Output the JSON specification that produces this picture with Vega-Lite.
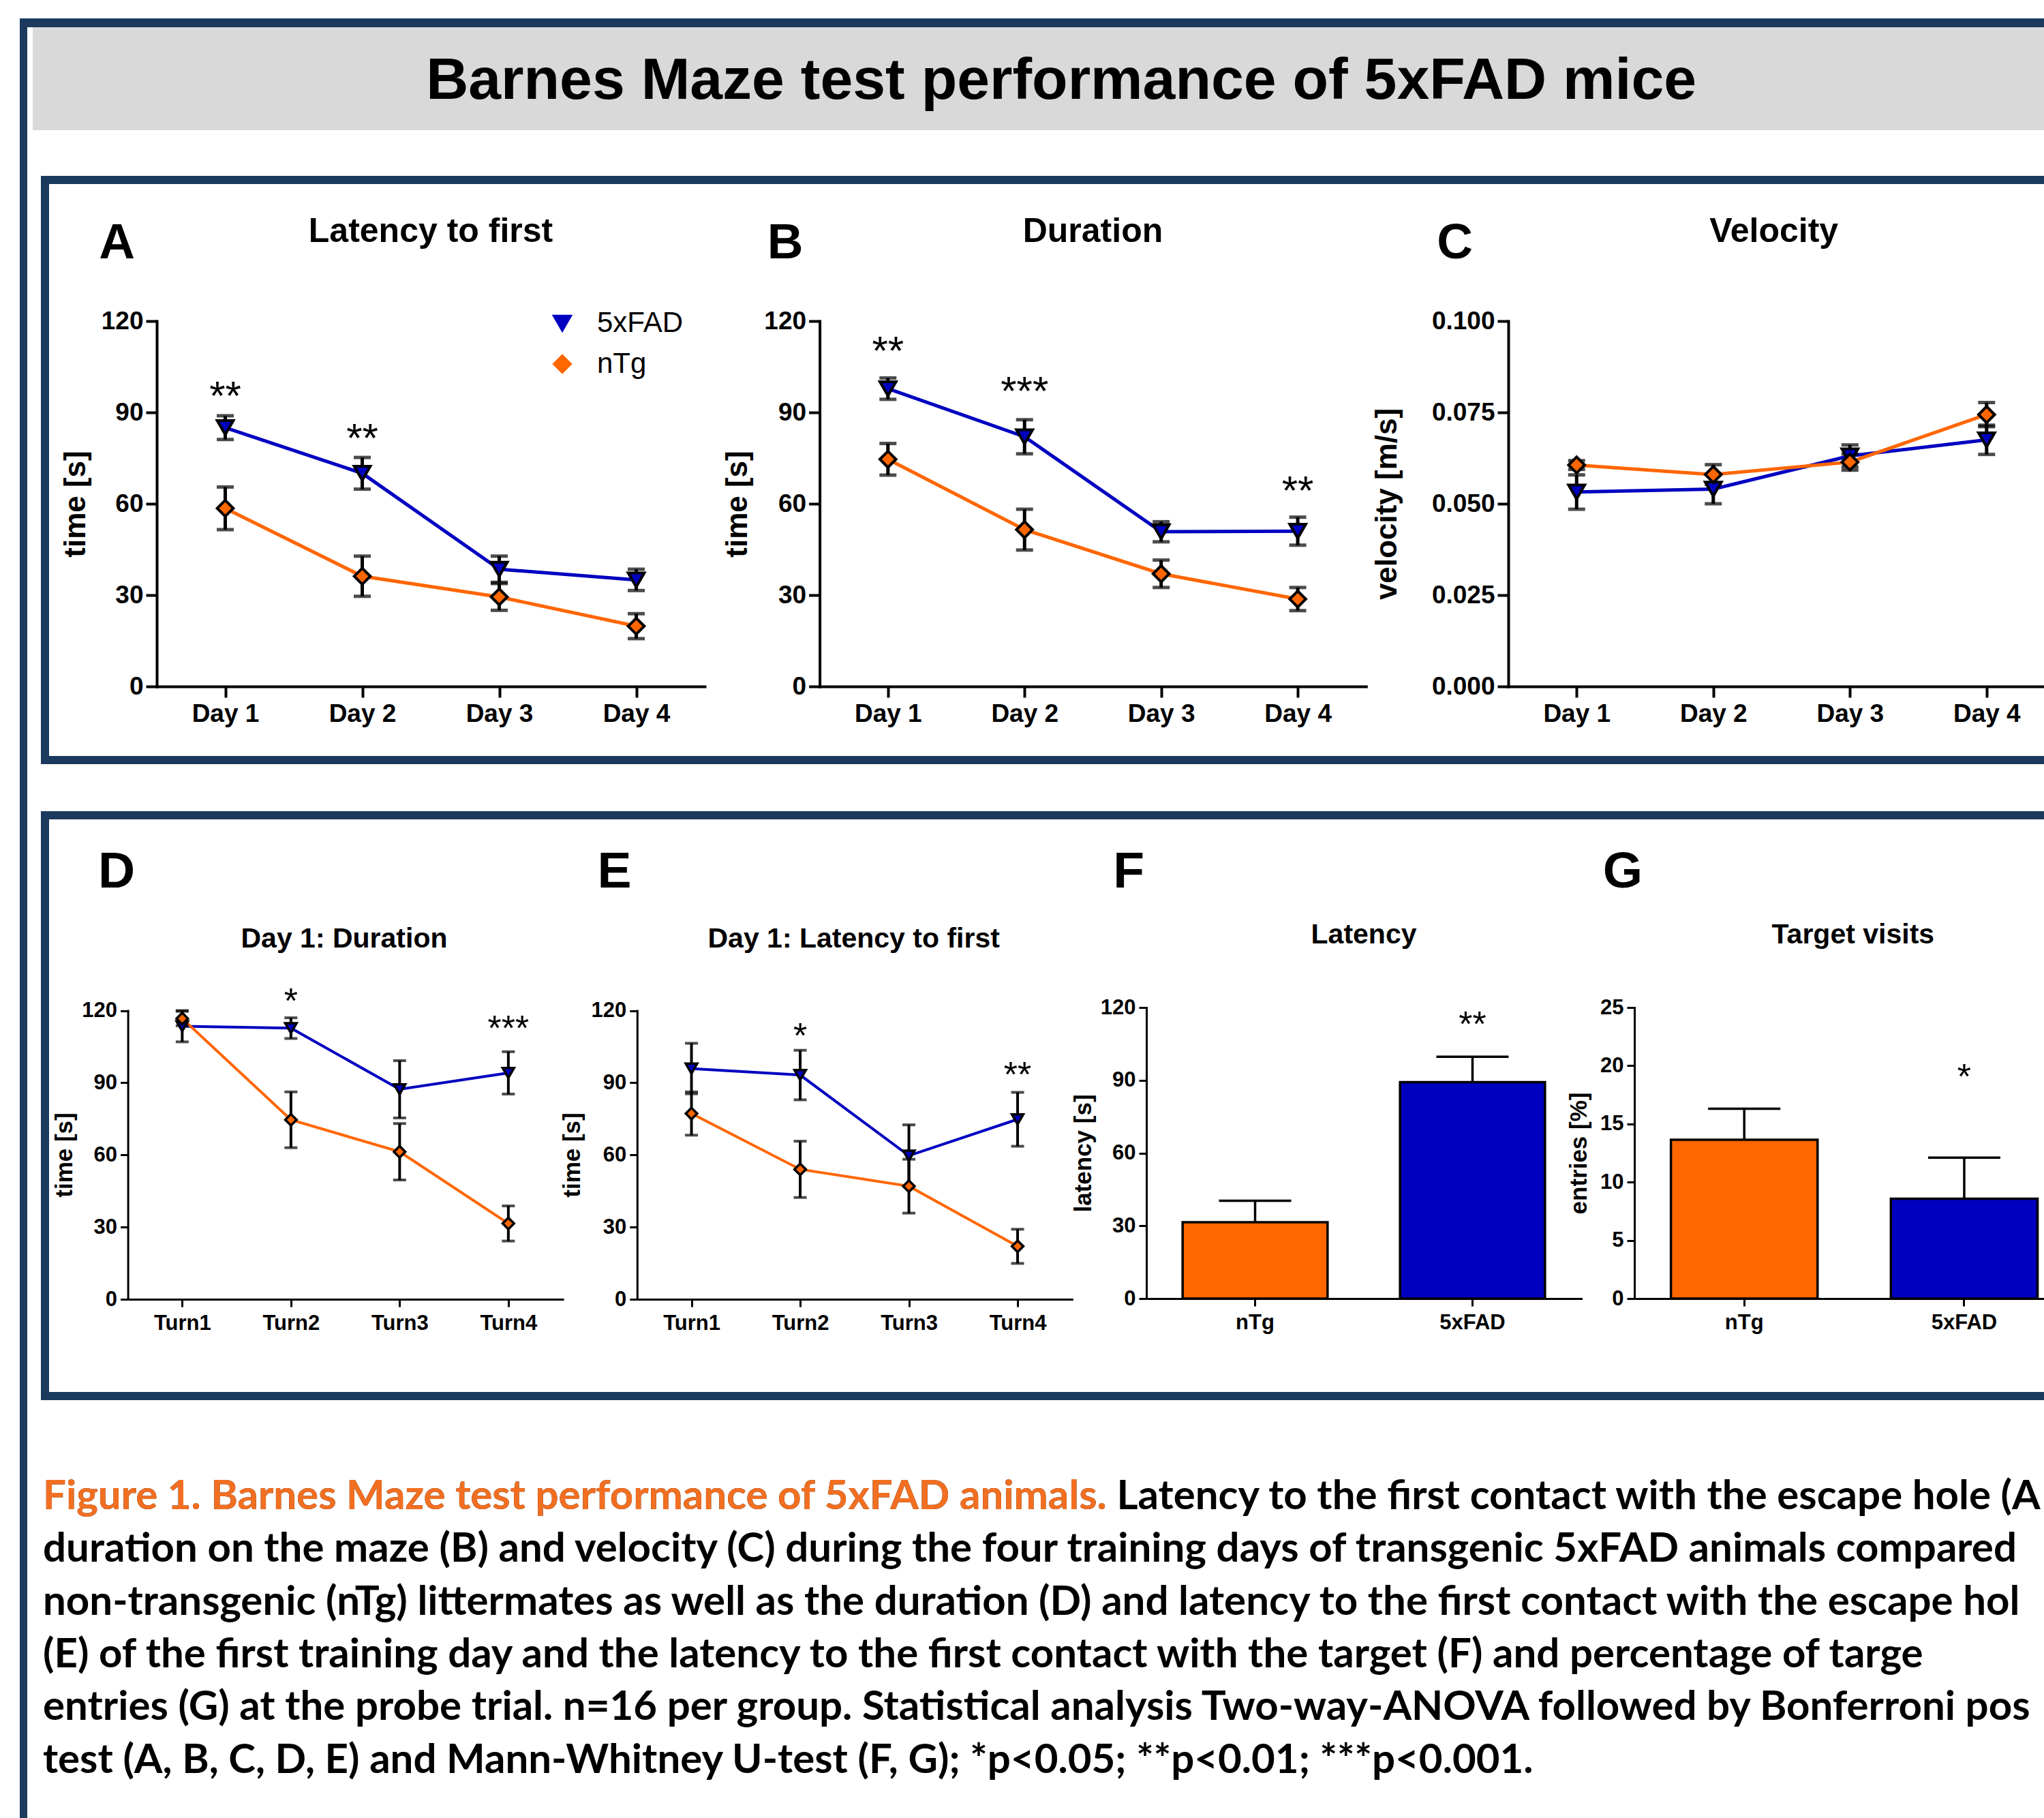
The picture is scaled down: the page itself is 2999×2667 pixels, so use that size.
{
"$schema":"https://vega.github.io/schema/vega-lite/v6.json",
"padding":{"left":29,"top":27,"right":0,"bottom":0},
"background":"white",
"datasets":{
"A":[{"day":1,"group":"5xFAD","mean":85,"sem":3.9},{"day":2,"group":"5xFAD","mean":70,"sem":5.2},{"day":3,"group":"5xFAD","mean":38.5,"sem":4.3},{"day":4,"group":"5xFAD","mean":35,"sem":3.5},{"day":1,"group":"nTg","mean":58.5,"sem":7},{"day":2,"group":"nTg","mean":36.2,"sem":6.6},{"day":3,"group":"nTg","mean":29.4,"sem":4.4},{"day":4,"group":"nTg","mean":19.8,"sem":4.1}],
"Astars":[{"day":1,"y":98.5,"label":"**"},{"day":2,"y":84.7,"label":"**"}],
"B":[{"day":1,"group":"5xFAD","mean":97.8,"sem":3.5},{"day":2,"group":"5xFAD","mean":82,"sem":5.6},{"day":3,"group":"5xFAD","mean":50.8,"sem":3.3},{"day":4,"group":"5xFAD","mean":51,"sem":4.6},{"day":1,"group":"nTg","mean":74.6,"sem":5.2},{"day":2,"group":"nTg","mean":51.5,"sem":6.7},{"day":3,"group":"nTg","mean":37,"sem":4.5},{"day":4,"group":"nTg","mean":28.7,"sem":3.8}],
"Bstars":[{"day":1,"y":113.2,"label":"**"},{"day":2,"y":100,"label":"***"},{"day":4,"y":67.5,"label":"**"}],
"C":[{"day":1,"group":"5xFAD","mean":0.0532,"sem":0.0047},{"day":2,"group":"5xFAD","mean":0.054,"sem":0.004},{"day":3,"group":"5xFAD","mean":0.0631,"sem":0.003},{"day":4,"group":"5xFAD","mean":0.0675,"sem":0.004},{"day":1,"group":"nTg","mean":0.0606,"sem":0.0012},{"day":2,"group":"nTg","mean":0.058,"sem":0.0027},{"day":3,"group":"nTg","mean":0.0614,"sem":0.0022},{"day":4,"group":"nTg","mean":0.0744,"sem":0.0033}],
"D":[{"turn":1,"group":"5xFAD","mean":113.5,"sem":6.5},{"turn":2,"group":"5xFAD","mean":112.7,"sem":4.3},{"turn":3,"group":"5xFAD","mean":87.3,"sem":11.9},{"turn":4,"group":"5xFAD","mean":94.1,"sem":8.8},{"turn":1,"group":"nTg","mean":116.7,"sem":3},{"turn":2,"group":"nTg","mean":74.6,"sem":11.6},{"turn":3,"group":"nTg","mean":61.3,"sem":11.7},{"turn":4,"group":"nTg","mean":31.5,"sem":7.3}],
"Dstars":[{"turn":2,"y":127.6,"label":"*"},{"turn":4,"y":116.3,"label":"***"}],
"E":[{"turn":1,"group":"5xFAD","mean":95.9,"sem":10.5},{"turn":2,"group":"5xFAD","mean":93.2,"sem":10.3},{"turn":3,"group":"5xFAD","mean":59.7,"sem":12.8},{"turn":4,"group":"5xFAD","mean":74.8,"sem":11.2},{"turn":1,"group":"nTg","mean":77.2,"sem":9},{"turn":2,"group":"nTg","mean":54,"sem":11.7},{"turn":3,"group":"nTg","mean":47,"sem":11.2},{"turn":4,"group":"nTg","mean":22,"sem":7.1}],
"Estars":[{"turn":2,"y":113,"label":"*"},{"turn":4,"y":97,"label":"**"}],
"F":[{"group":"nTg","mean":31.5,"hi":40.3},{"group":"5xFAD","mean":89.2,"hi":99.7}],
"Fstars":[{"group":"5xFAD","y":116.6,"label":"**"}],
"G":[{"group":"nTg","mean":13.64,"hi":16.3},{"group":"5xFAD","mean":8.57,"hi":12.1}],
"Gstars":[{"group":"5xFAD","y":19.76,"label":"*"}],
"caption":[
{"line":1,"text":"Figure 1. Barnes Maze test performance of 5xFAD animals. Latency to the first contact with the escape hole (A"},
{"line":2,"text":"duration on the maze (B) and velocity (C) during the four training days of transgenic 5xFAD animals compared t"},
{"line":3,"text":"non-transgenic (nTg) littermates as well as the duration (D) and latency to the first contact with the escape hol"},
{"line":4,"text":"(E) of the first training day and the latency to the first contact with the target (F) and  percentage of targe"},
{"line":5,"text":"entries (G) at the probe trial. n=16 per group. Statistical analysis Two-way-ANOVA followed by Bonferroni pos"},
{"line":6,"text":"test (A, B, C, D, E) and Mann-Whitney  U-test (F, G); *p<0.05; **p<0.01; ***p<0.001."}],
"captionHead":[{"line":1,"text":"Figure 1. Barnes Maze test performance of 5xFAD animals."}]
},
"spacing":0,
"vconcat":[
{"width":2970,"height":13,"view":{"fill":"#1b3a5e"},"data":{"values":[]},"mark":"point","encoding":{}},
{"hconcat":[
{"width":11,"height":2627,"view":{"fill":"#1b3a5e"},"data":{"values":[]},"mark":"point","encoding":{}},
{"vconcat":[
{"width":2951,"height":151,"view":{"fill":"#d9d9d9"},"data":{"values":[{}]},
 "mark":{"type":"text","text":"Barnes Maze test performance of  5xFAD mice","fontSize":86,"fontWeight":"bold","baseline":"middle","align":"center"},
 "encoding":{"x":{"datum":0.5114,"type":"quantitative","scale":{"domain":[0,1]},"axis":null},"y":{"datum":0.48,"type":"quantitative","scale":{"domain":[0,1]},"axis":null}}},
{"width":2951,"height":67,"data":{"values":[]},"mark":"point","encoding":{}},
{"hconcat":[
{"width":18,"height":851,"data":{"values":[]},"mark":"point","encoding":{}},
{"width":2939,"height":851,"view":{"stroke":"#1b3a5e","strokeWidth":12},
 "resolve":{"scale":{"x":"independent","y":"independent"},"axis":{"x":"independent","y":"independent"}},
 "layer":[
 {"layer":[
  {"data":{"name":"A"},"mark":{"type":"line","strokeWidth":5},
   "encoding":{
    "x":{"field":"day","type":"quantitative","title":null,"scale":{"domain":[0.5,4.5],"range":[164,968],"nice":false,"zero":false},"axis":{"orient":"bottom","offset":-108,"values":[1,2,3,4],"labelExpr":"'Day ' + datum.value","title":null,"labelFontSize":37,"labelPadding":6,"tickSize":16,"tickWidth":4,"domainWidth":4}},
    "y":{"field":"mean","type":"quantitative","title":"time [s]","scale":{"domain":[0,120],"range":[743,207],"nice":false,"zero":false},"axis":{"orient":"left","offset":-164,"values":[0,30,60,90,120],"title":"time [s]","titleFontSize":44,"titleX":-106,"titleY":475,"titleBaseline":"alphabetic","labelFontSize":37,"labelPadding":4,"tickSize":16,"tickWidth":4,"domainWidth":4}},
    "color":{"field":"group","type":"nominal","scale":{"domain":["5xFAD","nTg"],"range":["#0000c0","#ff6600"]},"legend":{"title":null,"orient":"none","legendX":738,"legendY":189,"labelFontSize":42,"labelFontWeight":"normal","symbolSize":560,"symbolStrokeColor":"black","symbolStrokeWidth":4,"rowPadding":18,"labelOffset":30,"padding":0}}}},
  {"data":{"name":"A"},"mark":{"type":"errorbar","color":"black","thickness":5,"size":25,"ticks":true},
   "encoding":{"x":{"field":"day","type":"quantitative","title":null},"y":{"field":"mean","type":"quantitative","title":"time [s]"},"yError":{"field":"sem"}}},
  {"data":{"name":"A"},"mark":{"type":"point","filled":true,"stroke":"black","strokeWidth":4,"size":560,"opacity":1},
   "encoding":{"x":{"field":"day","type":"quantitative","title":null},"y":{"field":"mean","type":"quantitative","title":"time [s]"},"stroke":{"value":"black"},
    "color":{"field":"group","type":"nominal","legend":{"title":null,"orient":"none","legendX":738,"legendY":189,"labelFontSize":42,"labelFontWeight":"normal","symbolSize":560,"symbolStrokeColor":"black","symbolStrokeWidth":4,"rowPadding":18,"labelOffset":30,"padding":0}},
    "shape":{"field":"group","type":"nominal","scale":{"domain":["5xFAD","nTg"],"range":["triangle-down","diamond"]},"legend":{"title":null,"orient":"none","legendX":738,"legendY":189,"labelFontSize":42,"labelFontWeight":"normal","symbolSize":560,"symbolStrokeColor":"black","symbolStrokeWidth":4,"rowPadding":18,"labelOffset":30,"padding":0}}}},
  {"data":{"name":"Astars"},"mark":{"type":"text","fontSize":60,"baseline":"alphabetic","dy":34},
   "encoding":{"x":{"field":"day","type":"quantitative","title":null},"y":{"field":"y","type":"quantitative","title":"time [s]"},"text":{"field":"label"}}},
  {"data":{"values":[{}]},"mark":{"type":"text","text":"Latency to first","fontSize":50,"fontWeight":"bold","baseline":"middle"},
   "encoding":{"x":{"datum":2.5},"y":{"datum":149.44}}},
  {"data":{"values":[{}]},"mark":{"type":"text","text":"A","fontSize":73,"fontWeight":"bold","baseline":"middle"},
   "encoding":{"x":{"datum":0.209},"y":{"datum":145.5}}}
 ]},
 {"layer":[
  {"data":{"name":"B"},"mark":{"type":"line","strokeWidth":5},
   "encoding":{
    "x":{"field":"day","type":"quantitative","title":null,"scale":{"domain":[0.5,4.5],"range":[1136.6,1938.3],"nice":false,"zero":false},"axis":{"orient":"bottom","offset":-108,"values":[1,2,3,4],"labelExpr":"'Day ' + datum.value","title":null,"labelFontSize":37,"labelPadding":6,"tickSize":16,"tickWidth":4,"domainWidth":4}},
    "y":{"field":"mean","type":"quantitative","title":"time [s]","scale":{"domain":[0,120],"range":[743,207],"nice":false,"zero":false},"axis":{"orient":"left","offset":-1136.6,"values":[0,30,60,90,120],"title":"time [s]","titleFontSize":44,"titleX":-107,"titleY":475,"titleBaseline":"alphabetic","labelFontSize":37,"labelPadding":4,"tickSize":16,"tickWidth":4,"domainWidth":4}},
    "color":{"field":"group","type":"nominal"}}},
  {"data":{"name":"B"},"mark":{"type":"errorbar","color":"black","thickness":5,"size":25,"ticks":true},
   "encoding":{"x":{"field":"day","type":"quantitative","title":null},"y":{"field":"mean","type":"quantitative","title":"time [s]"},"yError":{"field":"sem"}}},
  {"data":{"name":"B"},"mark":{"type":"point","filled":true,"stroke":"black","strokeWidth":4,"size":560,"opacity":1},
   "encoding":{"x":{"field":"day","type":"quantitative","title":null},"y":{"field":"mean","type":"quantitative","title":"time [s]"},"stroke":{"value":"black"},"color":{"field":"group","type":"nominal"},"shape":{"field":"group","type":"nominal"}}},
  {"data":{"name":"Bstars"},"mark":{"type":"text","fontSize":60,"baseline":"alphabetic","dy":34},
   "encoding":{"x":{"field":"day","type":"quantitative","title":null},"y":{"field":"y","type":"quantitative","title":"time [s]"},"text":{"field":"label"}}},
  {"data":{"values":[{}]},"mark":{"type":"text","text":"Duration","fontSize":50,"fontWeight":"bold","baseline":"middle"},
   "encoding":{"x":{"datum":2.5},"y":{"datum":149.44}}},
  {"data":{"values":[{}]},"mark":{"type":"text","text":"B","fontSize":73,"fontWeight":"bold","baseline":"middle"},
   "encoding":{"x":{"datum":0.2475},"y":{"datum":145.5}}}
 ]},
 {"layer":[
  {"data":{"name":"C"},"mark":{"type":"line","strokeWidth":5},
   "encoding":{
    "x":{"field":"day","type":"quantitative","title":null,"scale":{"domain":[0.5,4.42],"range":[2147,2933],"nice":false,"zero":false},"axis":{"orient":"bottom","offset":-108,"values":[1,2,3,4],"labelExpr":"'Day ' + datum.value","title":null,"labelFontSize":37,"labelPadding":6,"tickSize":16,"tickWidth":4,"domainWidth":4}},
    "y":{"field":"mean","type":"quantitative","title":"velocity [m/s]","scale":{"domain":[0,0.1],"range":[743,207],"nice":false,"zero":false},"axis":{"orient":"left","offset":-2147,"values":[0,0.025,0.05,0.075,0.1],"format":".3f","title":"velocity [m/s]","titleFontSize":44,"titleX":-165,"titleY":475,"titleBaseline":"alphabetic","labelFontSize":37,"labelPadding":4,"tickSize":16,"tickWidth":4,"domainWidth":4}},
    "color":{"field":"group","type":"nominal"}}},
  {"data":{"name":"C"},"mark":{"type":"errorbar","color":"black","thickness":5,"size":25,"ticks":true},
   "encoding":{"x":{"field":"day","type":"quantitative","title":null},"y":{"field":"mean","type":"quantitative","title":"velocity [m/s]"},"yError":{"field":"sem"}}},
  {"data":{"name":"C"},"mark":{"type":"point","filled":true,"stroke":"black","strokeWidth":4,"size":560,"opacity":1},
   "encoding":{"x":{"field":"day","type":"quantitative","title":null},"y":{"field":"mean","type":"quantitative","title":"velocity [m/s]"},"stroke":{"value":"black"},"color":{"field":"group","type":"nominal"},"shape":{"field":"group","type":"nominal"}}},
  {"data":{"values":[{}]},"mark":{"type":"text","text":"Velocity","fontSize":50,"fontWeight":"bold","baseline":"middle"},
   "encoding":{"x":{"datum":2.4435},"y":{"datum":0.12453}}},
  {"data":{"values":[{}]},"mark":{"type":"text","text":"C","fontSize":73,"fontWeight":"bold","baseline":"middle"},
   "encoding":{"x":{"datum":0.1085},"y":{"datum":0.12127}}}
 ]}
 ]}
],"spacing":0,"bounds":"flush",
 "resolve":{"scale":{"color":"independent","shape":"independent"},"legend":{"color":"independent","shape":"independent"}}},
{"width":2951,"height":69,"data":{"values":[]},"mark":"point","encoding":{}},
{"hconcat":[
{"width":18,"height":852,"data":{"values":[]},"mark":"point","encoding":{}},
{"width":2939,"height":852,"view":{"stroke":"#1b3a5e","strokeWidth":12},
 "resolve":{"scale":{"x":"independent","y":"independent"},"axis":{"x":"independent","y":"independent"}},
 "layer":[
 {"layer":[
  {"data":{"name":"D"},"mark":{"type":"line","strokeWidth":4},
   "encoding":{
    "x":{"field":"turn","type":"quantitative","title":null,"scale":{"domain":[0.5,4.5],"range":[121.6,759.6],"nice":false,"zero":false},"axis":{"orient":"bottom","offset":-142,"values":[1,2,3,4],"labelExpr":"'Turn' + datum.value","title":null,"labelFontSize":31,"labelPadding":9,"tickSize":11,"tickWidth":3,"domainWidth":3}},
    "y":{"field":"mean","type":"quantitative","title":"time [s]","scale":{"domain":[0,120],"range":[710,286.5],"nice":false,"zero":false},"axis":{"orient":"left","offset":-121.6,"values":[0,30,60,90,120],"title":"time [s]","titleFontSize":35,"titleX":-82,"titleY":498,"titleBaseline":"alphabetic","labelFontSize":31,"labelPadding":5,"tickSize":11,"tickWidth":3,"domainWidth":3}},
    "color":{"field":"group","type":"nominal","scale":{"domain":["5xFAD","nTg"],"range":["#0000c0","#ff6600"]},"legend":null}}},
  {"data":{"name":"D"},"mark":{"type":"errorbar","color":"black","thickness":4,"size":19,"ticks":true},
   "encoding":{"x":{"field":"turn","type":"quantitative","title":null},"y":{"field":"mean","type":"quantitative","title":"time [s]"},"yError":{"field":"sem"}}},
  {"data":{"name":"D"},"mark":{"type":"point","filled":true,"stroke":"black","strokeWidth":3.5,"size":280,"opacity":1},
   "encoding":{"x":{"field":"turn","type":"quantitative","title":null},"y":{"field":"mean","type":"quantitative","title":"time [s]"},"stroke":{"value":"black"},"color":{"field":"group","type":"nominal","legend":null},"shape":{"field":"group","type":"nominal","scale":{"domain":["5xFAD","nTg"],"range":["triangle-down","diamond"]},"legend":null}}},
  {"data":{"name":"Dstars"},"mark":{"type":"text","fontSize":52,"baseline":"alphabetic","dy":30},
   "encoding":{"x":{"field":"turn","type":"quantitative","title":null},"y":{"field":"y","type":"quantitative","title":"time [s]"},"text":{"field":"label"}}},
  {"data":{"values":[{}]},"mark":{"type":"text","text":"Day 1: Duration","fontSize":41,"fontWeight":"bold","baseline":"middle"},
   "encoding":{"x":{"datum":2.49},"y":{"datum":149.6}}},
  {"data":{"values":[{}]},"mark":{"type":"text","text":"D","fontSize":75,"fontWeight":"bold","baseline":"middle"},
   "encoding":{"x":{"datum":0.396},"y":{"datum":177.7}}}
 ]},
 {"layer":[
  {"data":{"name":"E"},"mark":{"type":"line","strokeWidth":4},
   "encoding":{
    "x":{"field":"turn","type":"quantitative","title":null,"scale":{"domain":[0.5,4.5],"range":[868.8,1506.8],"nice":false,"zero":false},"axis":{"orient":"bottom","offset":-142,"values":[1,2,3,4],"labelExpr":"'Turn' + datum.value","title":null,"labelFontSize":31,"labelPadding":9,"tickSize":11,"tickWidth":3,"domainWidth":3}},
    "y":{"field":"mean","type":"quantitative","title":"time [s]","scale":{"domain":[0,120],"range":[710,286.5],"nice":false,"zero":false},"axis":{"orient":"left","offset":-868.8,"values":[0,30,60,90,120],"title":"time [s]","titleFontSize":35,"titleX":-84,"titleY":498,"titleBaseline":"alphabetic","labelFontSize":31,"labelPadding":5,"tickSize":11,"tickWidth":3,"domainWidth":3}},
    "color":{"field":"group","type":"nominal","legend":null}}},
  {"data":{"name":"E"},"mark":{"type":"errorbar","color":"black","thickness":4,"size":19,"ticks":true},
   "encoding":{"x":{"field":"turn","type":"quantitative","title":null},"y":{"field":"mean","type":"quantitative","title":"time [s]"},"yError":{"field":"sem"}}},
  {"data":{"name":"E"},"mark":{"type":"point","filled":true,"stroke":"black","strokeWidth":3.5,"size":280,"opacity":1},
   "encoding":{"x":{"field":"turn","type":"quantitative","title":null},"y":{"field":"mean","type":"quantitative","title":"time [s]"},"stroke":{"value":"black"},"color":{"field":"group","type":"nominal","legend":null},"shape":{"field":"group","type":"nominal","legend":null}}},
  {"data":{"name":"Estars"},"mark":{"type":"text","fontSize":52,"baseline":"alphabetic","dy":30},
   "encoding":{"x":{"field":"turn","type":"quantitative","title":null},"y":{"field":"y","type":"quantitative","title":"time [s]"},"text":{"field":"label"}}},
  {"data":{"values":[{}]},"mark":{"type":"text","text":"Day 1: Latency to first","fontSize":41,"fontWeight":"bold","baseline":"middle"},
   "encoding":{"x":{"datum":2.493},"y":{"datum":149.6}}},
  {"data":{"values":[{}]},"mark":{"type":"text","text":"E","fontSize":75,"fontWeight":"bold","baseline":"middle"},
   "encoding":{"x":{"datum":0.291},"y":{"datum":177.7}}}
 ]},
 {"layer":[
  {"data":{"name":"F"},"mark":{"type":"bar","stroke":"black","strokeWidth":3.5},
   "encoding":{
    "x":{"field":"group","type":"nominal","title":null,"sort":["nTg","5xFAD"],"scale":{"domain":["nTg","5xFAD"],"range":[1616,2254],"paddingInner":0.3333,"paddingOuter":0.1667},"axis":{"orient":"bottom","offset":-143,"title":null,"labelAngle":0,"labelFontSize":31,"labelPadding":9,"tickSize":11,"tickWidth":3,"domainWidth":3}},
    "y":{"field":"mean","type":"quantitative","title":"latency [s]","scale":{"domain":[0,120],"range":[709,282],"nice":false,"zero":false},"axis":{"orient":"left","offset":-1616,"values":[0,30,60,90,120],"title":"latency [s]","titleFontSize":35,"titleX":-82,"titleY":495.5,"titleBaseline":"alphabetic","labelFontSize":31,"labelPadding":5,"tickSize":11,"tickWidth":3,"domainWidth":3}},
    "color":{"field":"group","type":"nominal","legend":null}}},
  {"data":{"name":"F"},"mark":{"type":"rule","color":"black","strokeWidth":3.5},
   "encoding":{"x":{"field":"group","type":"nominal","title":null},"y":{"field":"mean","type":"quantitative","title":"latency [s]"},"y2":{"field":"hi"}}},
  {"data":{"name":"F"},"mark":{"type":"tick","color":"black","thickness":3.5,"size":106,"opacity":1},
   "encoding":{"x":{"field":"group","type":"nominal","title":null},"y":{"field":"hi","type":"quantitative","title":"latency [s]"}}},
  {"data":{"name":"Fstars"},"mark":{"type":"text","fontSize":52,"baseline":"alphabetic","dy":30},
   "encoding":{"x":{"field":"group","type":"nominal","title":null},"y":{"field":"y","type":"quantitative","title":"latency [s]"},"text":{"field":"label"}}},
  {"data":{"values":[{}]},"mark":{"type":"text","text":"Latency","fontSize":41,"fontWeight":"bold","baseline":"middle"},
   "encoding":{"x":{"datum":"nTg","bandPosition":1.25},"y":{"datum":149.7}}},
  {"data":{"values":[{}]},"mark":{"type":"text","text":"F","fontSize":75,"fontWeight":"bold","baseline":"middle"},
   "encoding":{"x":{"datum":"nTg","bandPosition":-0.372},"y":{"datum":175.9}}}
 ]},
 {"layer":[
  {"data":{"name":"G"},"mark":{"type":"bar","stroke":"black","strokeWidth":3.5},
   "encoding":{
    "x":{"field":"group","type":"nominal","title":null,"sort":["nTg","5xFAD"],"scale":{"domain":["nTg","5xFAD"],"range":[2332,2933],"paddingInner":0.3333,"paddingOuter":0.0977,"align":0.85},"axis":{"orient":"bottom","offset":-143,"title":null,"labelAngle":0,"labelFontSize":31,"labelPadding":9,"tickSize":11,"tickWidth":3,"domainWidth":3}},
    "y":{"field":"mean","type":"quantitative","title":"entries [%]","scale":{"domain":[0,25],"range":[709,282],"nice":false,"zero":false},"axis":{"orient":"left","offset":-2332,"values":[0,5,10,15,20,25],"title":"entries [%]","titleFontSize":35,"titleX":-70.5,"titleY":495.5,"titleBaseline":"alphabetic","labelFontSize":31,"labelPadding":5,"tickSize":11,"tickWidth":3,"domainWidth":3}},
    "color":{"field":"group","type":"nominal","legend":null}}},
  {"data":{"name":"G"},"mark":{"type":"rule","color":"black","strokeWidth":3.5},
   "encoding":{"x":{"field":"group","type":"nominal","title":null},"y":{"field":"mean","type":"quantitative","title":"entries [%]"},"y2":{"field":"hi"}}},
  {"data":{"name":"G"},"mark":{"type":"tick","color":"black","thickness":3.5,"size":106,"opacity":1},
   "encoding":{"x":{"field":"group","type":"nominal","title":null},"y":{"field":"hi","type":"quantitative","title":"entries [%]"}}},
  {"data":{"name":"Gstars"},"mark":{"type":"text","fontSize":52,"baseline":"alphabetic","dy":30},
   "encoding":{"x":{"field":"group","type":"nominal","title":null},"y":{"field":"y","type":"quantitative","title":"entries [%]"},"text":{"field":"label"}}},
  {"data":{"values":[{}]},"mark":{"type":"text","text":"Target visits","fontSize":41,"fontWeight":"bold","baseline":"middle"},
   "encoding":{"x":{"datum":"nTg","bandPosition":1.242},"y":{"datum":31.19}}},
  {"data":{"values":[{}]},"mark":{"type":"text","text":"G","fontSize":75,"fontWeight":"bold","baseline":"middle"},
   "encoding":{"x":{"datum":"nTg","bandPosition":-0.3285},"y":{"datum":36.65}}}
 ]}
 ]}
],"spacing":0,"bounds":"flush",
 "resolve":{"scale":{"color":"independent","shape":"independent"},"legend":{"color":"independent","shape":"independent"}}},
{"hconcat":[
{"width":15,"height":613,"data":{"values":[]},"mark":"point","encoding":{}},
{"width":2936,"height":613,
 "layer":[
 {"data":{"name":"caption"},"mark":{"type":"text","align":"left","baseline":"middle","font":"Lato","fontWeight":"bold","fontSize":60,"limit":2936,"ellipsis":"\u200b","color":"black"},
  "encoding":{"x":{"datum":0,"type":"quantitative","scale":{"domain":[0,1]},"axis":null},"y":{"field":"line","type":"quantitative","scale":{"domain":[1,6],"range":[141.8,528.7],"nice":false,"zero":false},"axis":null},"text":{"field":"text"}}},
 {"data":{"name":"captionHead"},"mark":{"type":"text","align":"left","baseline":"middle","font":"Lato","fontWeight":"bold","fontSize":60,"limit":2936,"ellipsis":"\u200b","color":"#f26f21"},
  "encoding":{"x":{"datum":0,"type":"quantitative"},"y":{"field":"line","type":"quantitative"},"text":{"field":"text"}}}
 ]}
],"spacing":0,"bounds":"flush"}
],"spacing":0}
],"spacing":8}
],
"config":{
 "view":{"stroke":null},
 "font":"Liberation Sans",
 "text":{"font":"Liberation Sans","color":"black"},
 "axis":{"grid":false,"domainColor":"black","tickColor":"black","labelColor":"black","titleColor":"black","labelFont":"Liberation Sans","titleFont":"Liberation Sans","labelFontWeight":"bold","titleFontWeight":"bold","domainCap":"square","labelFlush":false,"labelOverlap":false},
 "legend":{"labelFont":"Liberation Sans","labelColor":"black"}
}
}
